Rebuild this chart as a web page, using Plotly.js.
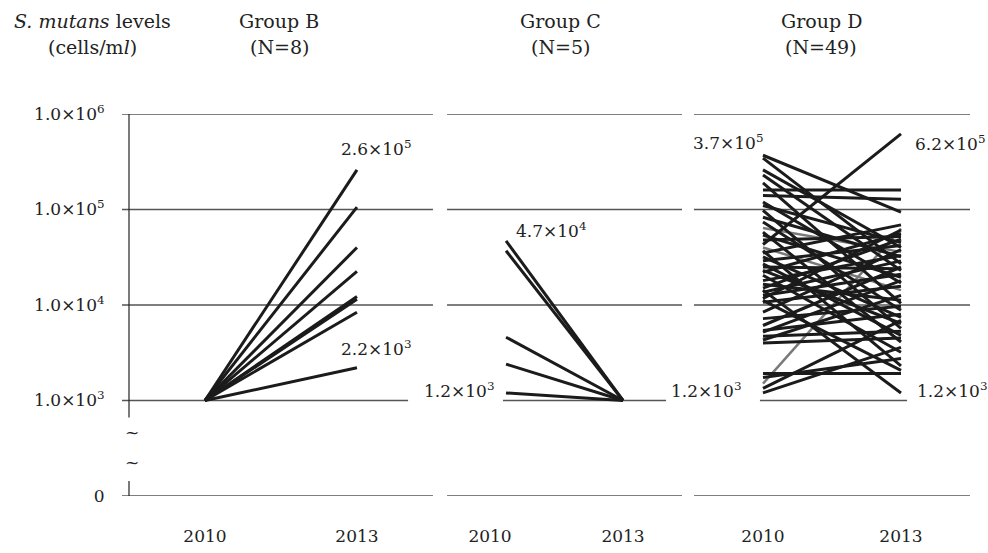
<!DOCTYPE html>
<html><head><meta charset="utf-8">
<script src="https://cdn.plot.ly/plotly-3.0.1.min.js"></script>
<style>html,body{margin:0;padding:0;background:#fff}#chart{width:988px;height:553px}</style>
</head><body><div id="chart"></div>
<script>
// ---- data ----
const years = [2010, 2013];
const yTickVals = [100, 1e3, 1e4, 1e5, 1e6];
const yTickText = ["0", "1.0×10<sup>3</sup>", "1.0×10<sup>4</sup>", "1.0×10<sup>5</sup>", "1.0×10<sup>6</sup>"];

const groupB2010 = [1e3, 1e3, 1e3, 1e3, 1e3, 1e3, 1e3, 1e3];
const groupB2013 = [2.6e5, 1.06e5, 4.0e4, 2.25e4, 1.23e4, 1.15e4, 8.4e3, 2.2e3];

const groupC2010 = [4.7e4, 3.7e4, 4.6e3, 2.4e3, 1.2e3];
const groupC2013 = [1e3, 1e3, 1e3, 1e3, 1e3];

const groupD2010 = [3.7e5, 3.45e5, 2.6e5, 2.3e5, 1.9e5, 1.6e5, 1.4e5, 1.2e5, 1.1e5, 9.8e4,
  8.3e4, 7.4e4, 5.8e4, 5.4e4, 4.8e4, 4.3e4, 3.7e4, 3.5e4, 3.2e4, 2.9e4,
  2.7e4, 2.5e4, 2.3e4, 2.2e4, 2.05e4, 1.8e4, 1.65e4, 1.5e4, 1.43e4, 1.36e4,
  1.26e4, 1.17e4, 1.12e4, 1.07e4, 8.4e3, 7.2e3, 6.1e3, 5.4e3, 5.2e3, 4.7e3,
  4.3e3, 4.0e3, 1.92e3, 1.74e3, 1.34e3, 1.2e3];
const groupD2013 = [9.4e4, 2.7e4, 4.0e4, 2.3e4, 1.04e4, 1.6e5, 1.28e5, 1.7e4, 4.5e4, 5.7e3,
  3.2e4, 8.8e3, 4.1e3, 1.95e4, 5.2e4, 6.2e5, 2.3e3, 6.9e4, 7.4e3, 4.2e4,
  4.8e3, 2.4e4, 6.4e3, 5.6e4, 3.2e3, 3.3e4, 1.12e4, 4.9e4, 1.2e3, 2.9e4,
  2.1e4, 6.1e4, 2.07e3, 1.57e4, 3.8e4, 9.7e3, 2.5e4, 8.0e3, 1.8e4, 5.3e3,
  1.26e4, 4.5e3, 1.92e3, 2.75e3, 6.9e3, 3.6e3];
const groupDgray2010 = [6.4e4, 4.0e4, 1.5e3];
const groupDgray2013 = [3.6e4, 1.43e4, 6.3e4];

// ---- build ----
function segs(a, b) {
  const x = [], y = [];
  for (let i = 0; i < a.length; i++) { x.push(years[0], years[1], null); y.push(a[i], b[i], null); }
  return {x, y};
}
function lineTrace(a, b, xa, color, w) {
  const s = segs(a, b);
  return {type: 'scatter', mode: 'lines', x: s.x, y: s.y, xaxis: xa, yaxis: 'y',
    line: {color: color, width: w}, hoverinfo: 'skip', showlegend: false, connectgaps: false};
}
const INK = '#1b1b1b';
const traces = [
  lineTrace(groupB2010, groupB2013, 'x', INK, 3),
  lineTrace(groupC2010, groupC2013, 'x2', INK, 3),
  lineTrace(groupDgray2010, groupDgray2013, 'x3', '#7a7a7a', 2.5),
  lineTrace(groupD2010, groupD2013, 'x3', INK, 3)
];

const FAM = "DejaVu Serif";
const FONT = {family: FAM, size: 17, color: '#222'};
const HFONT = {family: FAM, size: 19, color: '#222'};
const GRID = '#555';

function grid(xref, y, x0, x1) {
  return {type: 'line', xref: xref, yref: 'y', x0: x0, x1: x1, y0: y, y1: y,
    line: {color: GRID, width: 1.3}, layer: 'below'};
}
const shapes = [];
[['x domain', [0, 0.92]], ['x2 domain', [0.238, 0.932]], ['x3 domain', [0.239, 0.772]]].forEach(([ref, short]) => {
  yTickVals.forEach(v => {
    if (v === 1e3) shapes.push(grid(ref, v, short[0], short[1]));
    else shapes.push(grid(ref, v, 0, 1));
  });
});
const axX = 0.00825;
shapes.push({type: 'line', xref: 'paper', yref: 'y', x0: axX, x1: axX, y0: 664, y1: 1e6, line: {color: '#222', width: 1.2}});
shapes.push({type: 'line', xref: 'paper', yref: 'y', x0: axX, x1: axX, y0: 100, y1: 144, line: {color: '#222', width: 1.2}});

function valLabel(text, xa, xv, yv, xanchor, xshift, yshift) {
  return {text: text, xref: xa, yref: 'y', x: xv, y: Math.log10(yv), xanchor: xanchor, yanchor: 'middle',
    xshift: xshift, yshift: yshift, showarrow: false, font: FONT};
}
function sup(m, e) { return m + '×10<sup>' + e + '</sup>'; }
const P = px => (px - 122) / 848;
const PY = py => (496 - py) / 382;
function head(text, px, py) {
  return {text: text, xref: 'paper', yref: 'paper', x: P(px), y: PY(py), xanchor: 'center', yanchor: 'middle', showarrow: false, font: HFONT};
}
const annotations = [
  head('<i>S. mutans</i> levels', 92, 21),
  head('(cells/m<i>l</i>)', 92, 47),
  head('Group B', 279, 21), head('(N=8)', 279, 47),
  head('Group C', 560, 21), head('(N=5)', 560, 47),
  head('Group D', 821, 21), head('(N=49)', 821, 47),
  valLabel(sup('2.6', 5), 'x', 2013, 2.6e5, 'center', 20, 22),
  valLabel(sup('2.2', 3), 'x', 2013, 2.2e3, 'center', 20, 20),
  valLabel(sup('4.7', 4), 'x2', 2010, 4.7e4, 'left', 8, 11),
  valLabel(sup('1.2', 3), 'x2', 2010, 1.2e3, 'right', -9, 3),
  valLabel(sup('3.7', 5), 'x3', 2010, 3.7e5, 'right', 3, 13),
  valLabel(sup('6.2', 5), 'x3', 2013, 6.2e5, 'left', 12, -9),
  valLabel(sup('1.2', 3), 'x3', 2010, 1.2e3, 'right', -19, 3),
  valLabel(sup('1.2', 3), 'x3', 2013, 1.2e3, 'left', 14, 3),
  {text: '~', xref: 'paper', yref: 'y', x: axX, y: Math.log10(451), xshift: -6, yshift: 2, showarrow: false, font: {family: FAM, size: 17, color: '#222'}},
  {text: '~', xref: 'paper', yref: 'y', x: axX, y: Math.log10(218), xshift: -6, yshift: 2, showarrow: false, font: {family: FAM, size: 17, color: '#222'}}
];

function xax(domain, range, tickvals) {
  return {domain: domain, range: range, showgrid: false, zeroline: false, showline: false,
    tickvals: tickvals, ticktext: ['2010', '2013'], ticks: 'outside', ticklen: 25, tickcolor: 'rgba(0,0,0,0)',
    tickfont: FONT, fixedrange: true, anchor: 'y'};
}
const layout = {
  width: 988, height: 553,
  margin: {l: 122, r: 18, t: 114, b: 57},
  paper_bgcolor: '#fff', plot_bgcolor: 'rgba(0,0,0,0)',
  font: FONT,
  showlegend: false,
  xaxis: xax([0, 0.3667], [2008.362, 2014.5], [2010, 2013]),
  xaxis2: xax([0.3833, 0.6604], [2008.487, 2014.513], [2009.59, 2013]),
  xaxis3: xax([0.6745, 1], [2008.5, 2014.5], [2010, 2013]),
  yaxis: {type: 'log', range: [2, 6], tickvals: yTickVals, ticktext: yTickText, showgrid: false, zeroline: false,
    showline: false, ticks: 'outside', ticklen: 13, tickcolor: 'rgba(0,0,0,0)', tickfont: FONT, fixedrange: true},
  shapes: shapes,
  annotations: annotations
};
Plotly.newPlot('chart', traces, layout, {staticPlot: true, displayModeBar: false});
</script>
</body></html>
